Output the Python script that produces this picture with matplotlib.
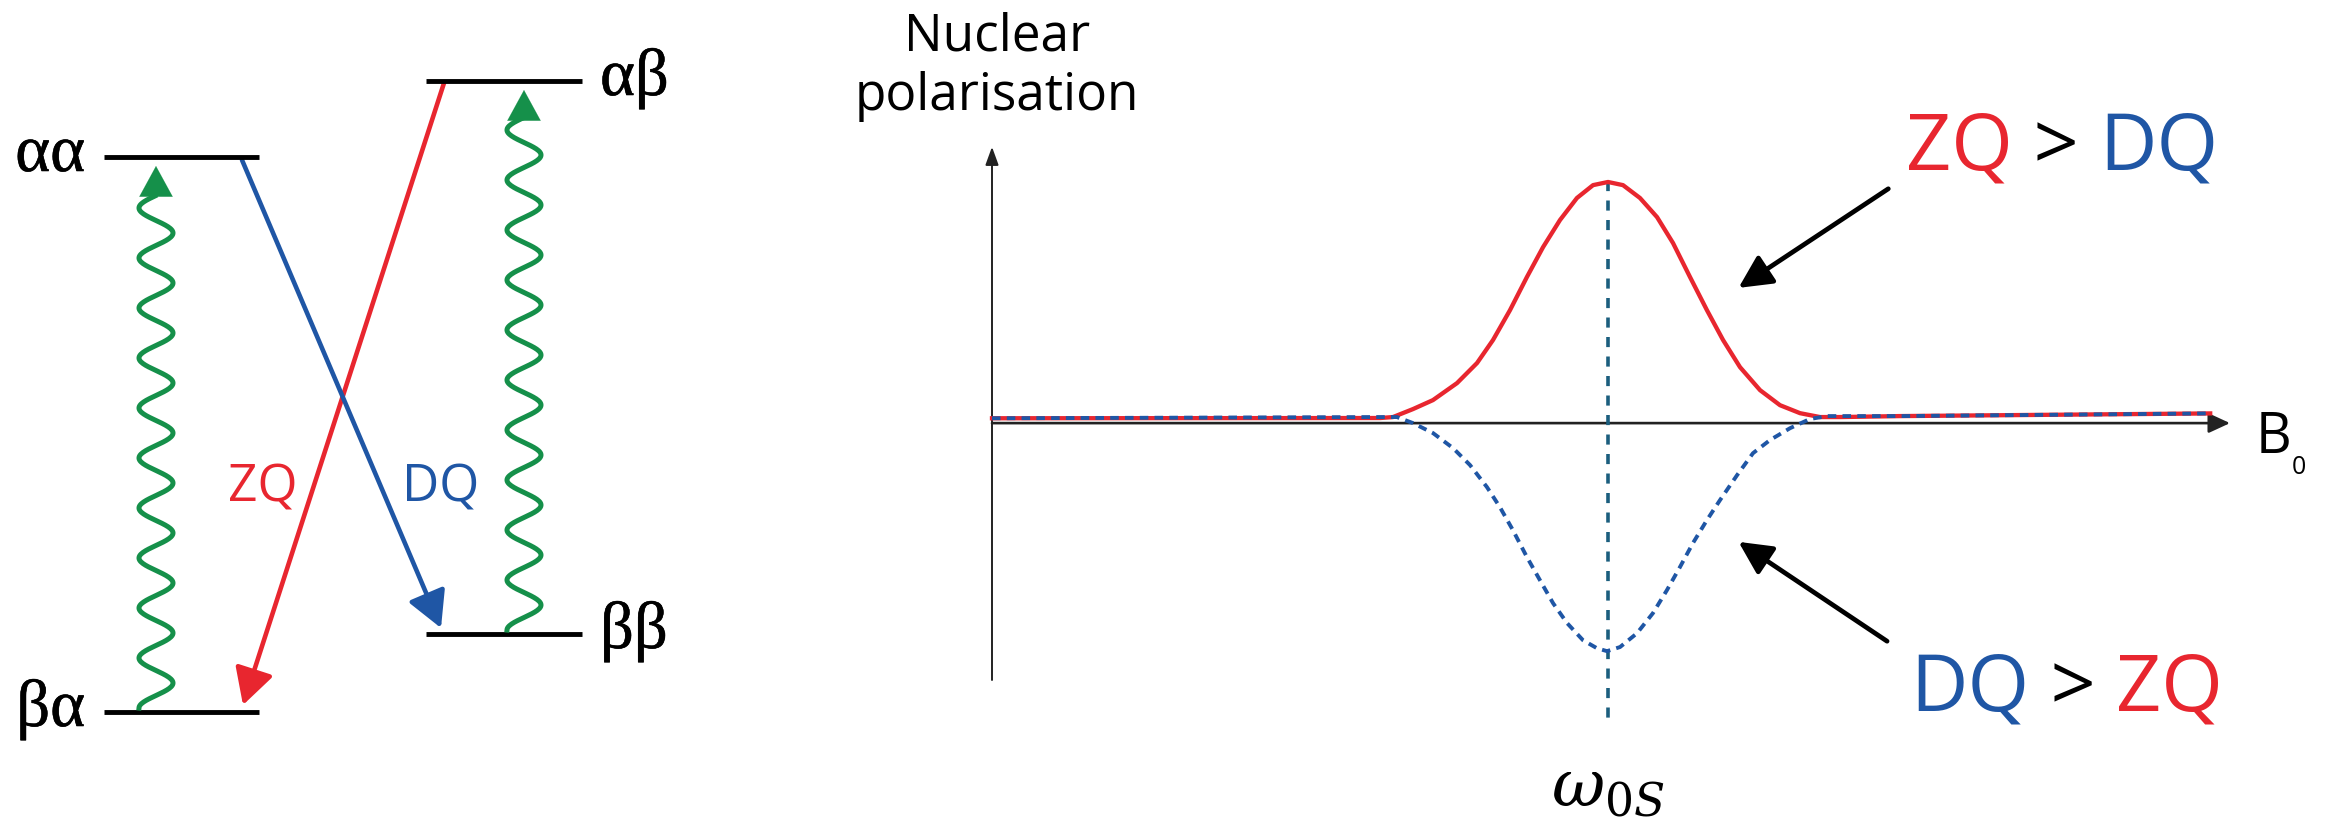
import numpy as np
import matplotlib
matplotlib.use("Agg")
import matplotlib.pyplot as plt
import matplotlib.patheffects as pe
from matplotlib.patches import FancyArrowPatch

plt.rcParams['font.family'] = ['Open Sans', 'DejaVu Sans']
plt.rcParams['mathtext.fontset'] = 'dejavuserif'

RED = '#e8262f'
BLUE = '#1f56a5'
GREEN = '#15904a'
TEAL = '#1b5e7e'

# ---- energy level diagram (left) ----
level_names = ['αα', 'βα', 'αβ', 'ββ']
level_energy = [5.55, 0.0, 6.31, 0.78]
level_x0 = [1.04, 1.04, 4.26, 4.26]
level_x1 = [2.59, 2.59, 5.82, 5.82]
label_side = ['left', 'left', 'right', 'right']

# ZQ and DQ transitions: x start/end, energy start/end
zq_x = [4.44, 2.43]
zq_e = [6.29, 0.07]
dq_x = [2.42, 4.41]
dq_e = [5.52, 0.84]

# wavy single-quantum transitions: centre x, bottom, head base, tip
wave_xc = [1.56, 5.24]
wave_bottom = [0.04, 0.82]
wave_top = [5.16, 5.93]
wave_tip = [5.46, 6.22]
wave_amp = 0.17
wave_len = 0.50

# ---- polarisation curves (right) ----
red_x = [0.0, 3.134, 3.239, 3.401, 3.562, 3.756, 3.918, 4.047, 4.184, 4.321, 4.451, 4.588,
         4.725, 4.855, 4.976, 5.097, 5.234, 5.372, 5.501, 5.638, 5.775, 5.905, 6.042, 6.204,
         6.365, 6.527, 6.688, 6.850, 7.33, 9.84]
red_y = [0.02, 0.021, 0.025, 0.058, 0.095, 0.165, 0.248, 0.343, 0.466, 0.603, 0.726, 0.838,
         0.929, 0.982, 0.995, 0.982, 0.929, 0.85, 0.743, 0.603, 0.466, 0.343, 0.231, 0.136,
         0.074, 0.041, 0.025, 0.025, 0.029, 0.04]
blue_x = [0.0, 3.134, 3.271, 3.401, 3.562, 3.724, 3.861, 3.998, 4.103, 4.208, 4.321, 4.426,
          4.532, 4.645, 4.774, 4.887, 4.968, 5.073, 5.210, 5.339, 5.452, 5.557, 5.662, 5.775,
          5.880, 6.018, 6.147, 6.284, 6.446, 6.607, 6.745, 7.33, 9.84]
blue_y = [0.02, 0.025, 0.025, 0.0, -0.041, -0.103, -0.173, -0.264, -0.347, -0.442, -0.553, -0.648,
          -0.743, -0.825, -0.896, -0.929, -0.941, -0.924, -0.867, -0.784, -0.689, -0.594, -0.495, -0.4,
          -0.318, -0.215, -0.124, -0.07, -0.021, 0.017, 0.029, 0.029, 0.04]
w0s = 4.976

fig = plt.figure(figsize=(23.26, 8.27), dpi=100)

# left panel
axl = fig.add_axes([0, 0, 700 / 2326, 1])
axl.set_xlim(0, 7.0)
axl.set_ylim(-1.15, 7.12)
axl.axis('off')

bold = [pe.withStroke(linewidth=0.4, foreground='black')]
for name, e, x0, x1, side in zip(level_names, level_energy, level_x0, level_x1, label_side):
    axl.plot([x0, x1], [e, e], color='black', lw=3.5, solid_capstyle='butt')
    if side == 'left':
        axl.text(x0 - 0.19, e - 0.14, name, ha='right', va='baseline', fontsize=48,
                 family=['Liberation Serif', 'DejaVu Serif'], path_effects=bold)
    else:
        axl.text(x1 + 0.18, e - 0.14, name, ha='left', va='baseline', fontsize=48,
                 family=['Liberation Serif', 'DejaVu Serif'], path_effects=bold)

for xs, es, c in [(zq_x, zq_e, RED), (dq_x, dq_e, BLUE)]:
    axl.add_patch(FancyArrowPatch((xs[0], es[0]), (xs[1], es[1]),
                                  arrowstyle='-|>,head_length=22,head_width=12',
                                  color=c, lw=3.3, shrinkA=0, shrinkB=0))

axl.text(2.28, 2.11, 'ZQ', color=RED, fontsize=37, ha='left', va='baseline')
axl.text(4.02, 2.11, 'DQ', color=BLUE, fontsize=37, ha='left', va='baseline')

for xc, eb, et, tip in zip(wave_xc, wave_bottom, wave_top, wave_tip):
    e = np.linspace(eb, et, 600)
    x = xc - wave_amp * np.cos(2 * np.pi * (e - eb) / wave_len)
    axl.plot(x, e, color=GREEN, lw=3.6)
    axl.add_patch(FancyArrowPatch((xc, et - 0.02), (xc, tip),
                                  arrowstyle='-|>,head_length=22,head_width=12',
                                  color=GREEN, lw=0.1, shrinkA=0, shrinkB=0))

# right panel
ax = fig.add_axes([992 / 2326, (827 - 680) / 827, 1238 / 2326, 538 / 827])
ax.set_xlim(0, 10)
ax.set_ylim(-1.06, 1.16)
ax.axis('off')

ax.add_patch(FancyArrowPatch((0, -1.06), (0, 1.14), arrowstyle='-|>,head_length=11,head_width=4',
                             color='#222222', lw=1.4, shrinkA=0, shrinkB=0, clip_on=False))
ax.add_patch(FancyArrowPatch((0, 0), (10, 0), arrowstyle='-|>,head_length=13,head_width=6',
                             color='#222222', lw=1.9, shrinkA=0, shrinkB=0, clip_on=False))

ax.plot([w0s, w0s], [1.0, -1.24], color=TEAL, lw=2.6, linestyle=(0, (2.8, 2.6)), clip_on=False)
ax.plot(red_x, red_y, color=RED, lw=3.1, clip_on=False)
ax.plot(blue_x, blue_y, color=BLUE, lw=2.8, linestyle=(0, (2.2, 1.6)), clip_on=False)

ax.text(0.04, 1.539, 'Nuclear', fontsize=37, ha='center', va='baseline')
ax.text(0.04, 1.292, 'polarisation', fontsize=37, ha='center', va='baseline')

b_txt = ax.text(10.21, -0.124, 'B', fontsize=40, ha='left', va='baseline')
ax.annotate('0', xy=(1, 0), xycoords=b_txt, xytext=(0, -5), textcoords='offset points',
            fontsize=18, ha='left', va='baseline')

ax.text(w0s, -1.58, r'$\omega_{0S}$', fontsize=47, ha='center', va='baseline')

# annotation arrows
ax.add_patch(FancyArrowPatch((7.24, 0.967), (6.03, 0.558), arrowstyle='-|>,head_length=20,head_width=10',
                             color='black', lw=3.4, shrinkA=0, shrinkB=0, clip_on=False))
ax.add_patch(FancyArrowPatch((7.23, -0.90), (6.03, -0.49), arrowstyle='-|>,head_length=20,head_width=10',
                             color='black', lw=3.4, shrinkA=0, shrinkB=0, clip_on=False))


def colour_text(x, y, parts):
    t = ax.text(x, y, parts[0][0], color=parts[0][1], fontsize=57, ha='left', va='baseline')
    for s, c in parts[1:]:
        t = ax.annotate(s, xy=(1, 0), xycoords=t, color=c, fontsize=57, ha='left', va='bottom')


colour_text(7.38, 1.045, [('ZQ', RED), (' > ', 'black'), ('DQ', BLUE)])
colour_text(7.42, -1.186, [('DQ', BLUE), (' > ', 'black'), ('ZQ', RED)])

fig.savefig('out.png', dpi=100, facecolor='white')
